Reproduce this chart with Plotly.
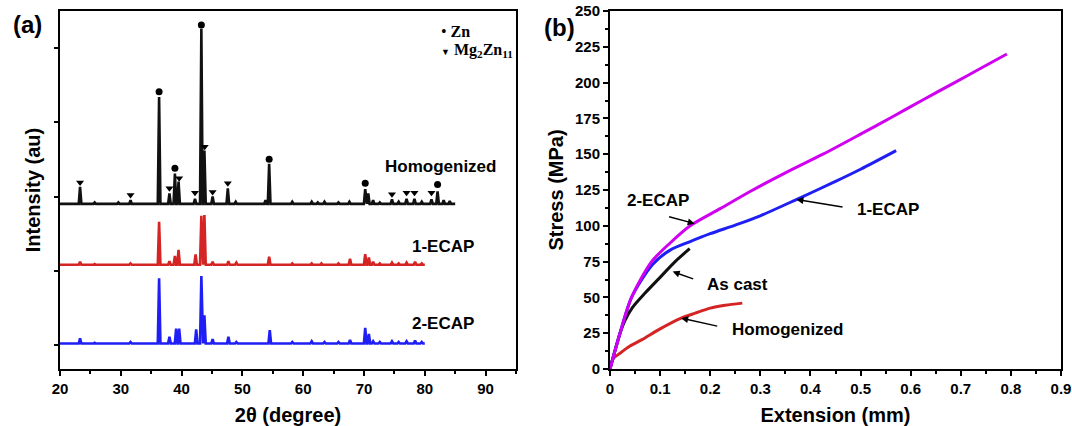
import plotly.graph_objects as go

# ---------------- Panel (a): XRD patterns ----------------
two_theta_start = 20.0
homog_end = 85.0
ecap_end = 80.0

homog_base = 1.90
homog_peak_x = [23.3, 25.7, 29.6, 31.6, 33.0, 36.3, 38.0, 38.9, 39.5, 42.2, 43.25, 43.75,
                45.1, 47.6, 48.9, 53.8, 54.4, 58.2, 61.4, 62.4, 63.5, 65.8, 67.6, 70.2,
                70.7, 71.5, 72.6, 74.6, 75.7, 77.0, 78.3, 79.5, 81.1, 82.1, 83.1, 84.1]
homog_peak_h = [0.23, 0.02, 0.02, 0.05, 0.01, 1.44, 0.14, 0.41, 0.30, 0.07, 2.36, 0.72,
                0.10, 0.21, 0.03, 0.05, 0.54, 0.03, 0.03, 0.02, 0.03, 0.02, 0.03, 0.20,
                0.14, 0.05, 0.02, 0.06, 0.03, 0.07, 0.07, 0.03, 0.06, 0.17, 0.05, 0.04]

ecap1_base = 1.08
ecap1_peak_x = [23.3, 25.7, 29.6, 31.6, 36.3, 38.0, 38.9, 39.5, 42.3, 43.25, 43.75, 45.1,
                47.7, 49.0, 54.4, 58.2, 61.4, 63.0, 65.8, 67.7, 70.2, 70.8, 71.5, 72.6,
                74.6, 75.7, 77.0, 78.4, 79.5]
ecap1_peak_h = [0.04, 0.01, 0.01, 0.02, 0.58, 0.05, 0.12, 0.20, 0.14, 0.66, 0.67, 0.04,
                0.05, 0.03, 0.11, 0.02, 0.02, 0.02, 0.02, 0.08, 0.145, 0.10, 0.04, 0.02,
                0.03, 0.02, 0.03, 0.04, 0.02]

ecap2_base = 0.02
ecap2_peak_x = [23.3, 25.7, 29.6, 31.6, 36.3, 38.0, 39.1, 39.6, 42.4, 43.25, 43.75, 45.1,
                47.7, 49.0, 54.5, 58.2, 61.4, 63.5, 65.8, 67.7, 70.2, 70.8, 71.5, 72.6,
                74.6, 75.7, 77.0, 78.4, 79.5]
ecap2_peak_h = [0.07, 0.01, 0.01, 0.02, 0.88, 0.09, 0.20, 0.20, 0.19, 0.91, 0.38, 0.06,
                0.09, 0.02, 0.18, 0.02, 0.03, 0.02, 0.02, 0.05, 0.21, 0.13, 0.03, 0.02,
                0.03, 0.02, 0.03, 0.04, 0.02]

zn_x = [36.3, 38.9, 43.25, 54.4, 70.2, 82.1]
zn_y = [3.41, 2.38, 4.31, 2.50, 2.18, 2.16]
mg2zn11_x = [23.3, 31.6, 38.0, 39.6, 42.2, 43.8, 45.1, 47.6, 74.6, 77.0, 78.3, 81.1]
mg2zn11_y = [2.19, 2.02, 2.11, 2.245, 2.05, 2.67, 2.06, 2.18, 2.03, 2.05, 2.05, 2.05]

xrd_xticks = [20, 30, 40, 50, 60, 70, 80, 90]

# ---------------- Panel (b): tensile curves ----------------
ecap2_ext = [0, 0.02, 0.043, 0.083, 0.12, 0.16, 0.22, 0.285, 0.35, 0.425, 0.5, 0.563, 0.625, 0.685, 0.74, 0.792]
ecap2_stress = [0, 25, 50, 75, 88, 100, 112, 125, 137, 150, 164, 176, 188, 199.5, 210, 220]

ecap1_ext = [0, 0.02, 0.043, 0.085, 0.12, 0.16, 0.2, 0.25, 0.3, 0.373, 0.45, 0.5, 0.571]
ecap1_stress = [0, 25, 50, 73, 83, 89, 94.5, 100.5, 107, 118.5, 131, 139.5, 152.5]

cast_ext = [0, 0.01, 0.02, 0.03, 0.045, 0.07, 0.1, 0.13, 0.159]
cast_stress = [0, 13, 25, 34, 43, 53, 64, 75, 84]

homog_ext = [0, 0.006, 0.02, 0.04, 0.064, 0.1, 0.142, 0.17, 0.2, 0.23, 0.264]
homog_stress = [0, 7, 11, 16, 20.5, 28, 35.5, 39, 42.5, 44.5, 46]


def profile(x0, x1, base, px, ph, hw=0.22):
    xs, ys = [x0], [base]
    for c, h in zip(px, ph):
        xs += [c - hw, c, c + hw]
        ys += [base, base + h, base]
    xs.append(x1)
    ys.append(base)
    return xs, ys


SANS = "Liberation Sans, Arial, sans-serif"
SERIF = "Liberation Serif, Times New Roman, serif"

fig = go.Figure()

for (base, px, ph, x1, col) in [
    (homog_base, homog_peak_x, homog_peak_h, homog_end, "#111111"),
    (ecap1_base, ecap1_peak_x, ecap1_peak_h, ecap_end, "#d42424"),
    (ecap2_base, ecap2_peak_x, ecap2_peak_h, ecap_end, "#1f1ff5"),
]:
    xs, ys = profile(two_theta_start, x1, base, px, ph)
    fig.add_trace(go.Scatter(x=xs, y=ys, mode="lines", line=dict(color=col, width=2.6),
                             xaxis="x", yaxis="y", showlegend=False))

fig.add_trace(go.Scatter(x=zn_x, y=zn_y, mode="markers",
                         marker=dict(symbol="circle", size=7, color="black"),
                         xaxis="x", yaxis="y", showlegend=False))
fig.add_trace(go.Scatter(x=mg2zn11_x, y=mg2zn11_y, mode="markers",
                         marker=dict(symbol="triangle-down", size=7, color="black"),
                         xaxis="x", yaxis="y", showlegend=False))

for ext, st, col in [
    (homog_ext, homog_stress, "#d42424"),
    (cast_ext, cast_stress, "#111111"),
    (ecap1_ext, ecap1_stress, "#1f1ff5"),
    (ecap2_ext, ecap2_stress, "#d000f0"),
]:
    fig.add_trace(go.Scatter(x=ext, y=st, mode="lines",
                             line=dict(color=col, width=3, shape="spline", smoothing=0.8),
                             xaxis="x2", yaxis="y2", showlegend=False))

axis_common = dict(showline=True, linecolor="black", linewidth=2, mirror=True,
                   showgrid=False, zeroline=False, ticks="outside", tickcolor="black",
                   tickwidth=2, color="black", automargin=False)

fig.update_layout(
    width=1072, height=426,
    margin=dict(l=0, r=0, t=0, b=0, autoexpand=False),
    paper_bgcolor="white", plot_bgcolor="white",
    xaxis=dict(domain=[60 / 1072, 516 / 1072], range=[20, 95], tickvals=xrd_xticks,
               ticklen=5, minor=dict(dtick=5, tick0=20, ticks="outside", ticklen=3, tickcolor="black", tickwidth=2),
               tickfont=dict(family=SANS, size=15, weight="bold"),
               title=dict(text="2θ (degree)", font=dict(family=SANS, size=20, weight="bold"), standoff=12),
               anchor="y", **axis_common),
    yaxis=dict(domain=[1 - 369 / 426, 1 - 11 / 426], range=[-0.323, 4.498], tickvals=[0, 1, 2, 3, 4],
               showticklabels=False, ticklen=4,
               title=dict(text="Intensity (au)", font=dict(family=SANS, size=20, weight="bold"), standoff=8),
               anchor="x", **axis_common),
    xaxis2=dict(domain=[610 / 1072, 1061 / 1072], range=[0, 0.9], dtick=0.1, tick0=0,
                ticklen=5, minor=dict(dtick=0.05, ticks="outside", ticklen=3, tickcolor="black", tickwidth=2),
                tickfont=dict(family=SANS, size=15, weight="bold"),
                title=dict(text="Extension (mm)", font=dict(family=SANS, size=20, weight="bold"), standoff=12),
                anchor="y2", **axis_common),
    yaxis2=dict(domain=[1 - 369 / 426, 1 - 11 / 426], range=[0, 250], dtick=25, tick0=0,
                ticklen=5, minor=dict(dtick=12.5, ticks="outside", ticklen=3, tickcolor="black", tickwidth=2),
                tickfont=dict(family=SANS, size=15, weight="bold"),
                title=dict(text="Stress (MPa)", font=dict(family=SANS, size=20, weight="bold"), standoff=6),
                anchor="x2", **axis_common),
)

lab_font = dict(family=SANS, size=17, color="black", weight="bold")
annotations = [
    dict(text="(a)", xref="paper", yref="paper", x=27 / 1072, y=1 - 25 / 426, showarrow=False,
         xanchor="center", yanchor="middle",
         font=dict(family=SANS, size=24, color="black", weight="bold")),
    dict(text="(b)", xref="paper", yref="paper", x=559 / 1072, y=1 - 27 / 426, showarrow=False,
         xanchor="center", yanchor="middle",
         font=dict(family=SANS, size=24, color="black", weight="bold")),
    dict(text="Homogenized", xref="x", yref="y", x=82.5, y=2.41, showarrow=False, font=lab_font),
    dict(text="1-ECAP", xref="x", yref="y", x=83.0, y=1.32, showarrow=False, font=lab_font),
    dict(text="2-ECAP", xref="x", yref="y", x=83.0, y=0.29, showarrow=False, font=lab_font),
    dict(text="• <b>Zn</b>", xref="x", yref="y", x=82.4, y=4.22, xanchor="left", showarrow=False,
         font=dict(family=SERIF, size=16, color="black")),
    dict(text="<span style='font-size:9px'>▼</span> <b>Mg<sub>2</sub>Zn<sub>11</sub></b>", xref="x", yref="y",
         x=82.4, y=3.96, xanchor="left", showarrow=False,
         font=dict(family=SERIF, size=16, color="black")),
    # panel (b) labels
    dict(text="2-ECAP", xref="x2", yref="y2", x=0.095, y=118, showarrow=False, font=lab_font),
    dict(text="1-ECAP", xref="x2", yref="y2", x=0.555, y=111.5, showarrow=False, font=lab_font),
    dict(text="As cast", xref="x2", yref="y2", x=0.254, y=59, showarrow=False, font=lab_font),
    dict(text="Homogenized", xref="x2", yref="y2", x=0.355, y=27.4, showarrow=False, font=lab_font),
]
arrows = [
    (0.169, 101.5, 0.115, 106.6),
    (0.372, 118.4, 0.467, 113.0),
    (0.125, 68.0, 0.169, 62.6),
    (0.142, 35.5, 0.217, 29.7),
]
for hx, hy, tx, ty in arrows:
    annotations.append(dict(text="", xref="x2", yref="y2", x=hx, y=hy, ax=tx, ay=ty,
                            axref="x2", ayref="y2", showarrow=True, arrowhead=2,
                            arrowsize=1.0, arrowwidth=1.4, arrowcolor="black"))

fig.update_layout(annotations=annotations)

fig.write_html("out.html", config={"displayModeBar": False},
               post_script="document.body.style.margin='0px';document.body.style.overflow='hidden';")
